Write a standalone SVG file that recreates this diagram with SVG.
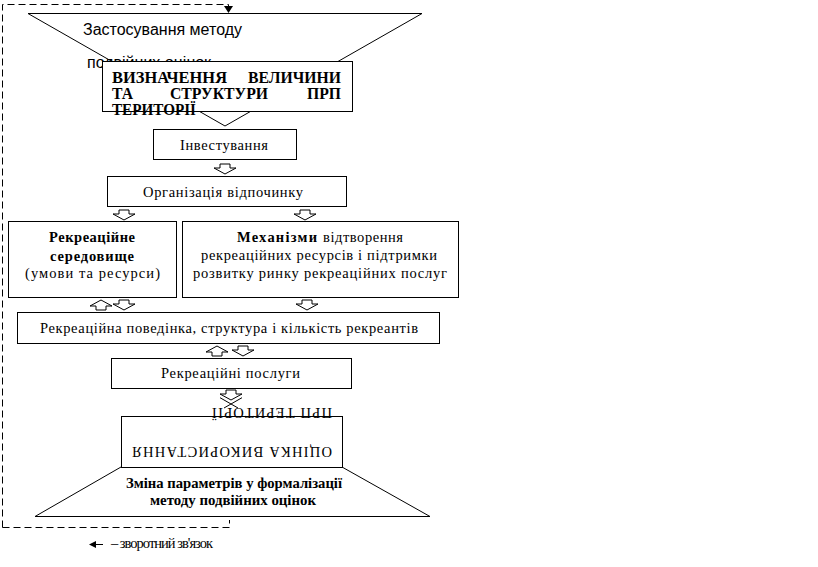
<svg xmlns="http://www.w3.org/2000/svg" width="818" height="567" viewBox="0 0 818 567">
<style>
.ln{fill:none;stroke:#000;stroke-width:1}
.bx{fill:#fff;stroke:#000;stroke-width:1}
.ar{fill:#fff;stroke:#000;stroke-width:1}
.dash{fill:none;stroke:#000;stroke-width:1;stroke-dasharray:7,4}
.t{font-family:'Liberation Serif','Times New Roman','DejaVu Serif',serif;font-size:14.5px;fill:#000}
.b{font-weight:bold}
.h{font-size:16px;font-weight:bold}
.s{font-family:'Liberation Sans',Arial,sans-serif;font-size:16px;fill:#000}
</style>
<defs>
<polygon id="dn" class="ar" points="-5,0 5,0 5,4 11,4 0,10 -11,4 -5,4"/>
<polygon id="up" class="ar" points="-5,10 5,10 5,6 11,6 0,0 -11,6 -5,6"/>
</defs>
<g id="connectors">
<path class="dash" d="M2.5,527.5 V4.5 H228.5 V7"/>
<path d="M224,6 L233,6 L228.5,13 Z" fill="#000"/>
<path class="dash" d="M2.5,527.5 H229.5 V520"/>
<use href="#dn" x="225" y="164"/>
<use href="#dn" x="124" y="210"/>
<use href="#dn" x="305" y="210"/>
<use href="#up" x="101" y="300"/>
<use href="#dn" x="124" y="300"/>
<use href="#dn" x="307" y="300"/>
<use href="#up" x="217" y="346"/>
<use href="#dn" x="243" y="346"/>
<use href="#dn" x="231" y="390"/>
<path class="ln" d="M220,397.7 L238,408 M242,397.7 L224,408"/>
</g>
<g id="top-funnel">
<path class="ln" d="M28,13.5 H422 L225,126 Z"/>
<text class="s" x="83" y="35">Застосування методу</text>
<text class="s" x="87" y="68">подвійних оцінок</text>
</g>
<g id="n-vyznachennia">
<rect class="bx" x="102.5" y="61.5" width="250" height="50"/>
<text class="t h" x="112" y="83" textLength="115" lengthAdjust="spacingAndGlyphs">ВИЗНАЧЕННЯ</text>
<text class="t h" x="248" y="83" textLength="93" lengthAdjust="spacingAndGlyphs">ВЕЛИЧИНИ</text>
<text class="t h" x="112" y="99" textLength="21" lengthAdjust="spacingAndGlyphs">ТА</text>
<text class="t h" x="170" y="99" textLength="98" lengthAdjust="spacingAndGlyphs">СТРУКТУРИ</text>
<text class="t h" x="307" y="99" textLength="34" lengthAdjust="spacingAndGlyphs">ПРП</text>
<text class="t h" x="112" y="115" textLength="84" lengthAdjust="spacingAndGlyphs">ТЕРИТОРІЇ</text>
</g>
<g id="n-investuvannia">
<rect class="bx" x="153.5" y="129.5" width="143" height="30"/>
<text class="t" x="180" y="150" textLength="88" lengthAdjust="spacing">Інвестування</text>
</g>
<g id="n-orhanizatsiia">
<rect class="bx" x="107.5" y="176.5" width="239" height="30"/>
<text class="t" x="143" y="197" textLength="160" lengthAdjust="spacing">Організація відпочинку</text>
</g>
<g id="n-seredovyshche">
<rect class="bx" x="8.5" y="221.5" width="168" height="76"/>
<text class="t b" x="49" y="242" textLength="86" lengthAdjust="spacing">Рекреаційне</text>
<text class="t b" x="50" y="261" textLength="84" lengthAdjust="spacing">середовище</text>
<text class="t" x="25" y="278" textLength="135" lengthAdjust="spacing">(умови та ресурси)</text>
</g>
<g id="n-mekhanizmy">
<rect class="bx" x="182.5" y="221.5" width="276" height="76"/>
<text class="t b" x="237" y="242" textLength="80" lengthAdjust="spacing">Механізми</text>
<text class="t" x="323" y="242" textLength="80" lengthAdjust="spacing">відтворення</text>
<text class="t" x="201" y="260" textLength="236" lengthAdjust="spacing">рекреаційних ресурсів і підтримки</text>
<text class="t" x="193" y="278" textLength="254" lengthAdjust="spacing">розвитку ринку рекреаційних послуг</text>
</g>
<g id="n-povedinka">
<rect class="bx" x="17.5" y="312.5" width="422" height="31"/>
<text class="t" x="40" y="333" textLength="378" lengthAdjust="spacing">Рекреаційна поведінка, структура і кількість рекреантів</text>
</g>
<g id="n-posluhy">
<rect class="bx" x="111.5" y="358.5" width="240" height="30"/>
<text class="t" x="161" y="378" textLength="139" lengthAdjust="spacing">Рекреаційні послуги</text>
</g>
<g id="bottom-funnel">
<path class="ln" d="M121,467 L35,516.5 H430 L342,467"/>
<text class="t b" x="126" y="488" textLength="216" lengthAdjust="spacingAndGlyphs" font-size="16">Зміна параметрів у формалізації</text>
<text class="t b" x="150" y="505" textLength="166" lengthAdjust="spacingAndGlyphs" font-size="16">методу подвійних оцінок</text>
</g>
<g id="n-otsinka">
<rect class="bx" x="121.5" y="416.5" width="221" height="51"/>
<text class="t" font-size="16" x="332" y="447" transform="rotate(180 332 447)" textLength="200" lengthAdjust="spacing">ОЦІНКА ВИКОРИСТАННЯ</text>
<text class="t" font-size="16" x="332" y="408" transform="rotate(180 332 408)" textLength="120" lengthAdjust="spacing">ПРП ТЕРИТОРІЇ</text>
</g>
<g id="legend">
<path class="ln" d="M95,544.5 H103"/>
<path d="M89,544.5 L96,541 L96,548 Z" fill="#000"/>
<text class="t" font-size="12" x="111" y="548" textLength="102" lengthAdjust="spacing">– зворотний зв'язок</text>
</g>
</svg>
